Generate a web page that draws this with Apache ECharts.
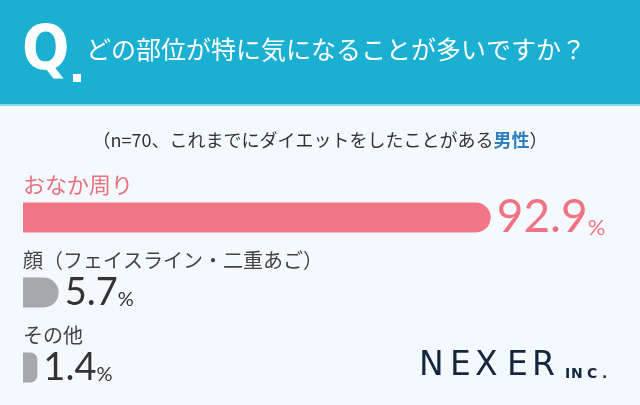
<!DOCTYPE html>
<html><head><meta charset="utf-8">
<script src="https://cdn.jsdelivr.net/npm/echarts@6/dist/echarts.min.js"></script>
<style>html,body{margin:0;padding:0;background:#f3f9fc;}#c{width:640px;height:405px;}</style>
</head><body><div id="c"></div>
<script>
const categories = ['おなか周り', '顔（フェイスライン・二重あご）', 'その他'];
const values = [92.9, 5.7, 1.4];
const barColors = ['#f27786', '#a6a8ab', '#a6a8ab'];
const labelColors = ['#ef7383', '#333333', '#333333'];
const catColors = ['#e8707f', '#444444', '#444444'];

const chart = echarts.init(document.getElementById('c'));
const jp = '"Noto Sans CJK JP", "Noto Sans", sans-serif';
const num = 'Lato, "Noto Sans", sans-serif';
const AXIS_MIN = -1.5;

const logo = [];
[['N', 419], ['E', 450], ['X', 475], ['E', 507], ['R', 532]].forEach(([t, x]) => {
  logo.push({ type: 'text', left: x, top: 350, style: { text: t, fill: '#16263f', font: '33px "DejaVu Sans", sans-serif' } });
});
[['I', 565], ['N', 571], ['C', 587], ['.', 602]].forEach(([t, x]) => {
  logo.push({ type: 'text', left: x, top: 367, style: { text: t, fill: '#16263f', font: 'bold 14px "DejaVu Sans", sans-serif' } });
});

chart.setOption({
  backgroundColor: '#f3f9fc',
  animation: false,
  title: [
    { text: 'どの部位が特に気になることが多いですか？', left: 86, top: 37, padding: 0,
      textStyle: { color: '#ffffff', fontSize: 25, fontWeight: 'normal', fontFamily: jp } },
    { text: '（n=70、これまでにダイエットをしたことがある{b|男性}）', left: 'center', top: 126,
      textStyle: { color: '#333333', fontSize: 18, fontWeight: 'normal', fontFamily: jp,
        rich: { b: { color: '#2f7fc1', fontSize: 18, fontWeight: 'bold', fontFamily: jp } } } }
  ],
  graphic: [
    { type: 'rect', left: 0, top: 0, z: -1, shape: { width: 640, height: 104 }, style: { fill: '#1bb0d2' } },
    { type: 'rect', left: 0, top: 104, z: -1, shape: { width: 640, height: 2 }, style: { fill: '#8fd6e8' } },
    { type: 'text', left: 22, top: 22, style: { text: 'Q', fill: '#ffffff', font: 'bold 62px "Liberation Sans Narrow", "DejaVu Sans Condensed", sans-serif' } },
    { type: 'rect', left: 73, top: 74, shape: { width: 8, height: 8 }, style: { fill: '#ffffff' } }
  ].concat(logo),
  grid: { left: 23, right: 10, top: 180, height: 225, containLabel: false },
  xAxis: { type: 'value', min: AXIS_MIN, max: 121, show: false },
  yAxis: {
    type: 'category', data: categories, inverse: true,
    axisLine: { show: false }, axisTick: { show: false },
    axisLabel: {
      inside: true, margin: 0, verticalAlign: 'bottom', padding: [0, 0, 22, 0],
      fontFamily: jp, fontSize: 20,
      formatter: (v, i) => i === 0 ? '{p|' + v + '}' : '{g|' + v + '}',
      rich: {
        p: { color: catColors[0], fontSize: 22, fontFamily: jp },
        g: { color: catColors[1], fontSize: 20, fontFamily: jp }
      }
    }
  },
  series: [{
    type: 'custom',
    encode: { x: 0, y: 1 },
    data: values.map((v, i) => [v, i]),
    renderItem: (params, api) => {
      const i = api.value(1);
      const start = api.coord([AXIS_MIN, i]);
      const end = api.coord([api.value(0), i]);
      const h = 30;
      const w = end[0] - start[0];
      const r = Math.min(15, w / 2);
      return {
        type: 'rect',
        shape: { x: start[0], y: start[1] - h / 2, width: w, height: h, r: [0, r, r, 0] },
        style: { fill: barColors[i] },
        textContent: {
          style: {
            text: '{v|' + values[i] + '}{p|%}',
            rich: {
              v: { fill: labelColors[i], fontSize: i === 0 ? 46 : 38, fontFamily: num },
              p: { fill: labelColors[i], fontSize: i === 0 ? 22 : 20, fontFamily: num, verticalAlign: 'bottom', padding: [0, 0, 2, 0] }
            }
          }
        },
        textConfig: { position: 'right', distance: 6 }
      };
    }
  }]
});
</script></body></html>
